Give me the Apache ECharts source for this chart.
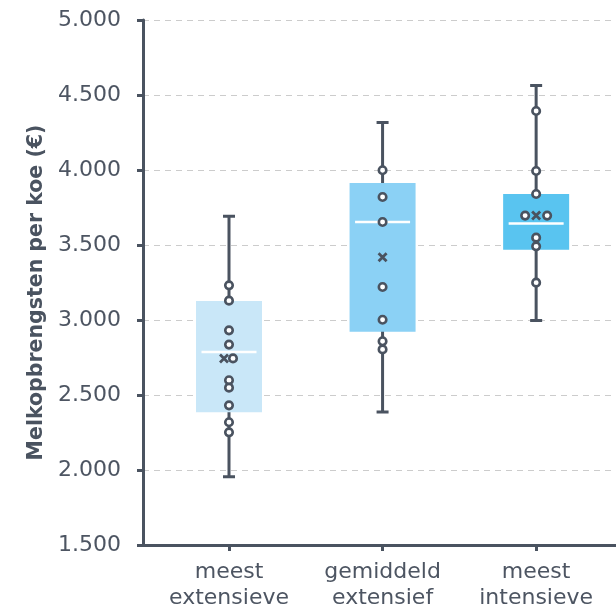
<!DOCTYPE html>
<html><head><meta charset="utf-8">
<script src="https://cdn.jsdelivr.net/npm/echarts@6/dist/echarts.min.js"></script>
<style>html,body{margin:0;padding:0;background:#fff}#c{width:616px;height:609px}</style>
</head><body><div id="c"></div>
<script>
// ---- data ----
const categories = ['meest\nextensieve', 'gemiddeld\nextensief', 'meest\nintensieve'];
const mins    = [1955, 2387, 2996];
const q1s     = [2385, 2922, 3469];
const medians = [2787, 3653, 3644];
const q3s     = [3127, 3913, 3840];
const maxs    = [3692, 4316, 4564];
const means   = [2744, 3418, 3696];
const points0 = [3231, 3129, 2931, 2836, 2744, 2598, 2549, 2431, 2318, 2251];
const points1 = [3998, 3820, 3653, 3220, 3002, 2858, 2804];
const points2 = [4393, 3993, 3840, 3696, 3696, 3549, 3491, 3249];
const yTickLabels = ['1.500','2.000','2.500','3.000','3.500','4.000','4.500','5.000'];
const yTitle = 'Melkopbrengsten per koe (€)';

// ---- styles ----
const DARK = '#4a5360';
const LABEL = '#4d5562';
const boxColors = ['#c9e7f8', '#8bd1f5', '#59c4f0'];
const FONT = '"DejaVu Sans", sans-serif';
// pixel shifts of overlapping markers (style only)
const pointShift = {'0-4': 4, '2-3': -11, '2-4': 11};
const meanShift = [-5, 0, 0];

const allPoints = [points0, points1, points2];
const pointData = [];
allPoints.forEach((arr, i) => arr.forEach((v, j) => {
  pointData.push({value: [i, v], symbolOffset: [pointShift[i + '-' + j] || 0, 0]});
}));
const meanData = means.map((v, i) => ({value: [i, v], symbolOffset: [meanShift[i], 0]}));

const xMin = -0.56, xMax = 2.52;
const idx = categories.map((c, i) => i);

const chart = echarts.init(document.getElementById('c'), null, {renderer: 'canvas'});
chart.setOption({
  animation: false,
  grid: {left: 143, right: 0, top: 20, bottom: 64, outerBoundsMode: 'none', containLabel: false},
  xAxis: [
    {
      type: 'value', min: xMin, max: xMax,
      axisLine: {show: true, onZero: false, lineStyle: {color: DARK, width: 3}},
      axisTick: {show: true, customValues: idx, length: 6, lineStyle: {color: DARK, width: 3}},
      axisLabel: {customValues: idx, formatter: v => categories[Math.round(v)], fontSize: 22,
        lineHeight: 26, color: LABEL, margin: 14, fontFamily: FONT},
      splitLine: {show: false}
    },
    {type: 'value', min: xMin, max: xMax, show: false},
    {type: 'value', min: xMin, max: xMax, show: false}
  ],
  yAxis: {
    type: 'value', min: 1500, max: 5000, interval: 500,
    name: yTitle, nameLocation: 'middle', nameGap: 96,
    nameTextStyle: {fontSize: 20.5, fontWeight: 'bold', color: DARK, fontFamily: FONT, padding: [0, 20, 0, 0]},
    axisLine: {show: true, onZero: false, lineStyle: {color: DARK, width: 3}},
    axisTick: {show: true, length: 6, lineStyle: {color: DARK, width: 3}},
    axisLabel: {fontSize: 22, color: LABEL, margin: 22, fontFamily: FONT,
      formatter: v => yTickLabels[Math.round((v - 1500) / 500)]},
    splitLine: {show: true, lineStyle: {color: '#cccccc', width: 1.2, type: [6, 5]}}
  },
  series: [
    {
      // whiskers with caps (inner box collapsed onto the median, hidden under the box)
      type: 'boxplot', xAxisIndex: 0, boxWidth: [12, 12], z: 2,
      itemStyle: {color: 'transparent', borderColor: DARK, borderWidth: 3},
      emphasis: {disabled: true},
      data: idx.map(i => [i, mins[i], medians[i], medians[i], medians[i], maxs[i]])
    },
    {
      type: 'boxplot', xAxisIndex: 1, boxWidth: [66, 66], z: 3,
      itemStyle: {borderWidth: 0},
      emphasis: {disabled: true},
      data: idx.map(i => ({value: [i, q1s[i], q1s[i], medians[i], q3s[i], q3s[i]],
        itemStyle: {color: boxColors[i], borderColor: boxColors[i], borderWidth: 0}}))
    },
    {
      type: 'boxplot', xAxisIndex: 2, boxWidth: [55, 55], z: 4,
      itemStyle: {color: 'transparent', borderColor: '#ffffff', borderWidth: 2.5},
      emphasis: {disabled: true},
      data: idx.map(i => [i, medians[i], medians[i], medians[i], medians[i], medians[i]])
    },
    {
      type: 'scatter', xAxisIndex: 0, z: 5, symbol: 'circle', symbolSize: 7.5,
      itemStyle: {color: '#ffffff', borderColor: DARK, borderWidth: 2.6, opacity: 1},
      emphasis: {disabled: true},
      data: pointData
    },
    {
      type: 'scatter', xAxisIndex: 0, z: 6, symbol: 'path://M0,0L10,10M10,0L0,10', symbolSize: 8,
      itemStyle: {color: 'transparent', borderColor: DARK, borderWidth: 2.8, opacity: 1},
      emphasis: {disabled: true},
      data: meanData
    }
  ]
});
</script>
</body></html>
